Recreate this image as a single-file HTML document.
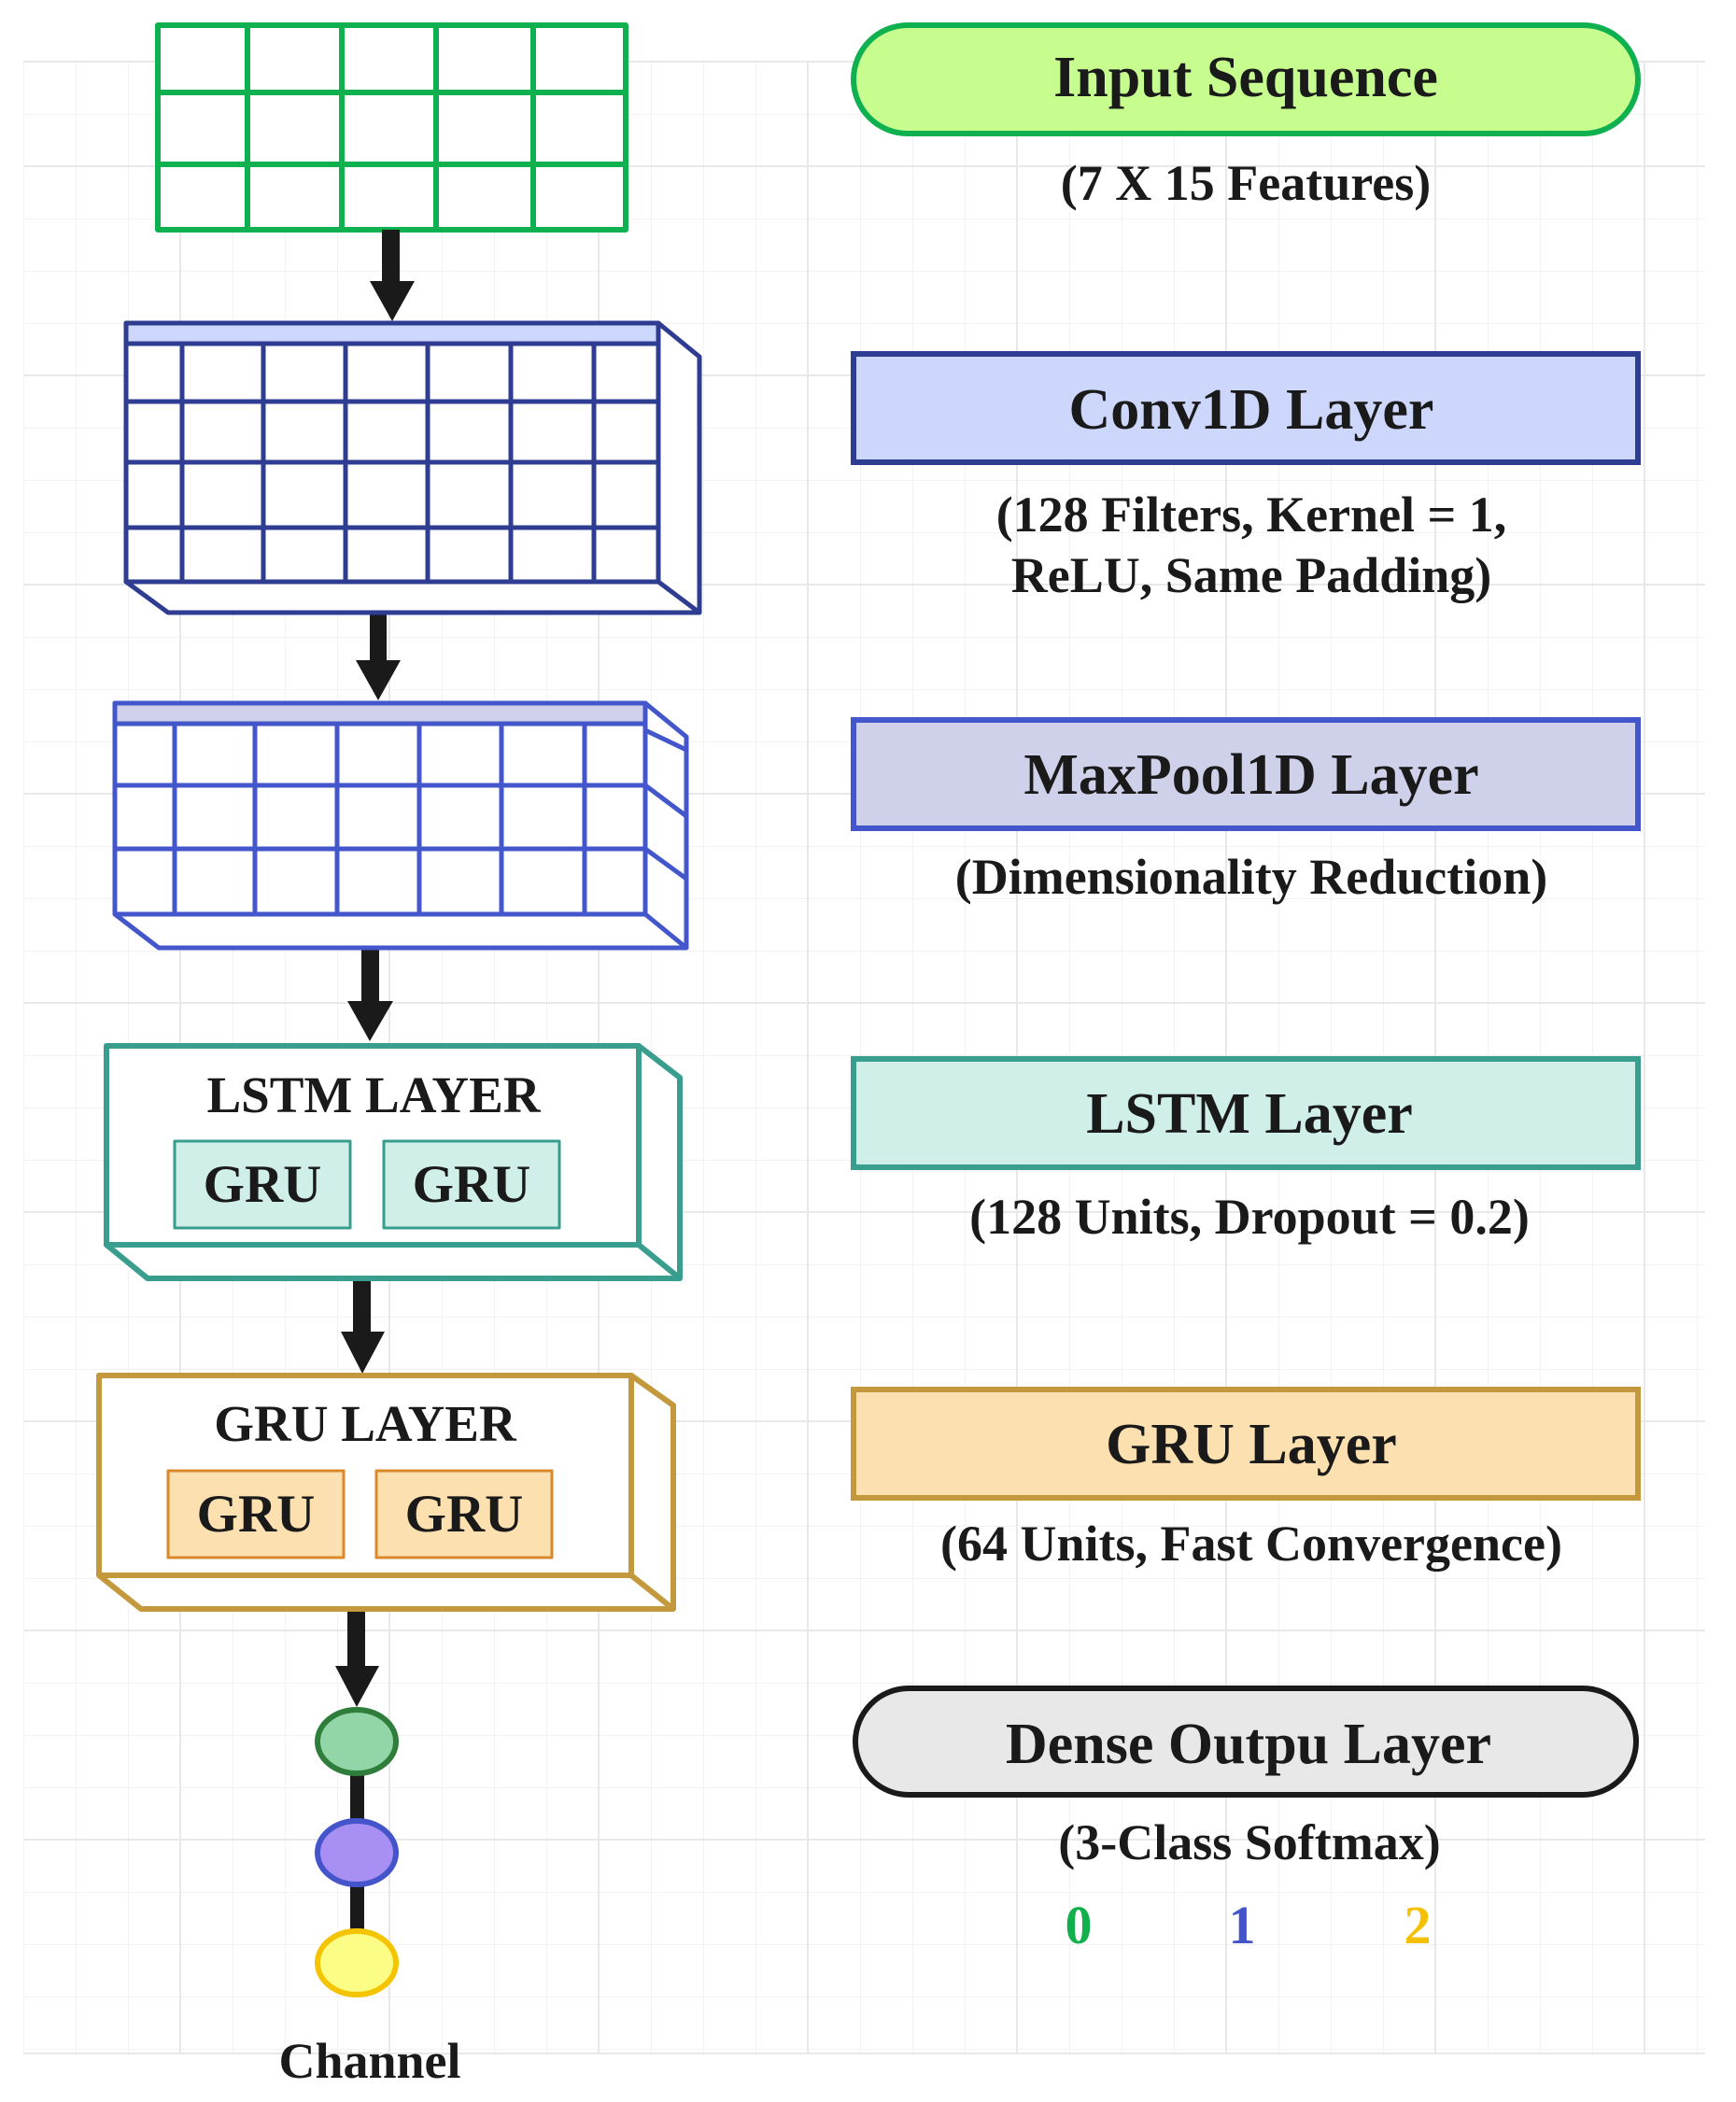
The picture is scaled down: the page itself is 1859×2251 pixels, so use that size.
<!DOCTYPE html>
<html><head><meta charset="utf-8"><style>
html,body{margin:0;padding:0;background:#fff;}
svg{display:block;}
text{font-family:"Liberation Serif",serif;font-weight:bold;fill:#1a1a1a;}
</style></head><body>
<svg width="1859" height="2251" viewBox="0 0 1859 2251" xmlns="http://www.w3.org/2000/svg">
<defs>
<pattern id="g" x="25" y="66" width="56" height="56" patternUnits="userSpaceOnUse">
<path d="M0 0H56M0 0V56" stroke="#f2f2f2" stroke-width="2" fill="none"/>
</pattern>
</defs>
<rect x="25" y="66" width="1801" height="2133" fill="url(#g)"/>
<g stroke="#e8e8e8" stroke-width="2">
<line x1="193" y1="66" x2="193" y2="2199"/><line x1="417" y1="66" x2="417" y2="2199"/>
<line x1="641" y1="66" x2="641" y2="2199"/><line x1="865" y1="66" x2="865" y2="2199"/>
<line x1="1089" y1="66" x2="1089" y2="2199"/><line x1="1313" y1="66" x2="1313" y2="2199"/>
<line x1="1537" y1="66" x2="1537" y2="2199"/><line x1="1761" y1="66" x2="1761" y2="2199"/>
<line x1="25" y1="178" x2="1826" y2="178"/><line x1="25" y1="402" x2="1826" y2="402"/>
<line x1="25" y1="626" x2="1826" y2="626"/><line x1="25" y1="850" x2="1826" y2="850"/>
<line x1="25" y1="1074" x2="1826" y2="1074"/><line x1="25" y1="1298" x2="1826" y2="1298"/>
<line x1="25" y1="1522" x2="1826" y2="1522"/><line x1="25" y1="1746" x2="1826" y2="1746"/>
<line x1="25" y1="1970" x2="1826" y2="1970"/><line x1="25" y1="2199" x2="1826" y2="2199"/>
<line x1="25" y1="66" x2="1826" y2="66"/>
</g>

<g stroke="#0fb04f" stroke-width="6" fill="#fff" stroke-linejoin="round">
<rect x="169" y="27" width="501" height="219"/>
<line x1="169" y1="99" x2="670" y2="99"/><line x1="169" y1="176" x2="670" y2="176"/>
<line x1="265" y1="27" x2="265" y2="246"/><line x1="366" y1="27" x2="366" y2="246"/>
<line x1="467" y1="27" x2="467" y2="246"/><line x1="571" y1="27" x2="571" y2="246"/>
</g>

<g fill="#1a1a1a">
<rect x="409" y="246" width="19" height="56"/><polygon points="396,301 444,301 420,344"/>
<rect x="396" y="656" width="18" height="52"/><polygon points="381,707 429,707 405,750"/>
<rect x="387" y="1015" width="19" height="58"/><polygon points="372,1072 421,1072 396,1115"/>
<rect x="378" y="1369" width="19" height="58"/><polygon points="365,1426 412,1426 388,1471"/>
<rect x="372" y="1723" width="19" height="62"/><polygon points="359,1784 406,1784 382,1828"/>
<rect x="375" y="1880" width="15" height="210"/>
</g>

<g stroke="#2e3d92" stroke-width="5" fill="#fff" stroke-linejoin="round">
<polygon points="705,346 749,382 749,656 180,656 135,623 705,623"/>
<line x1="705" y1="623" x2="749" y2="656"/>
<rect x="135" y="346" width="570" height="277"/>
<rect x="135" y="346" width="570" height="22" fill="#cdd7fb"/>
<line x1="135" y1="430" x2="705" y2="430"/><line x1="135" y1="495" x2="705" y2="495"/><line x1="135" y1="565" x2="705" y2="565"/>
<line x1="195" y1="368" x2="195" y2="623"/><line x1="282" y1="368" x2="282" y2="623"/><line x1="370" y1="368" x2="370" y2="623"/>
<line x1="458" y1="368" x2="458" y2="623"/><line x1="547" y1="368" x2="547" y2="623"/><line x1="636" y1="368" x2="636" y2="623"/>
</g>

<g stroke="#4456cc" stroke-width="5" fill="#fff" stroke-linejoin="round">
<polygon points="691,753 735,789 735,1015 170,1015 123,979 691,979"/>
<line x1="691" y1="979" x2="735" y2="1015"/>
<line x1="691" y1="782" x2="735" y2="803"/><line x1="691" y1="841" x2="735" y2="874"/><line x1="691" y1="909" x2="735" y2="941"/>
<rect x="123" y="753" width="568" height="226"/>
<rect x="123" y="753" width="568" height="22" fill="#cfd0ea"/>
<line x1="123" y1="841" x2="691" y2="841"/><line x1="123" y1="909" x2="691" y2="909"/>
<line x1="187" y1="775" x2="187" y2="979"/><line x1="273" y1="775" x2="273" y2="979"/><line x1="361" y1="775" x2="361" y2="979"/>
<line x1="449" y1="775" x2="449" y2="979"/><line x1="537" y1="775" x2="537" y2="979"/><line x1="626" y1="775" x2="626" y2="979"/>
</g>

<g stroke="#3a9e8f" stroke-width="6" fill="#fff" stroke-linejoin="round">
<polygon points="684,1120 728,1154 728,1369 158,1369 114,1333 684,1333"/>
<line x1="684" y1="1333" x2="728" y2="1369"/>
<rect x="114" y="1120" width="570" height="213"/>
<rect x="187" y="1222" width="188" height="93" fill="#d0efe8" stroke-width="3"/>
<rect x="411" y="1222" width="188" height="93" fill="#d0efe8" stroke-width="3"/>
</g>
<text x="400" y="1191" font-size="55" text-anchor="middle">LSTM LAYER</text>
<text x="281" y="1287" font-size="57" text-anchor="middle">GRU</text>
<text x="505" y="1287" font-size="57" text-anchor="middle">GRU</text>

<g stroke="#c4983c" stroke-width="6" fill="#fff" stroke-linejoin="round">
<polygon points="676,1473 721,1505 721,1723 151,1723 106,1687 676,1687"/>
<line x1="676" y1="1687" x2="721" y2="1723"/>
<rect x="106" y="1473" width="570" height="214"/>
<rect x="180" y="1575" width="188" height="93" fill="#fde0b0" stroke="#d9882b" stroke-width="3"/>
<rect x="403" y="1575" width="188" height="93" fill="#fde0b0" stroke="#d9882b" stroke-width="3"/>
</g>
<text x="391" y="1543" font-size="55" text-anchor="middle">GRU LAYER</text>
<text x="274" y="1640" font-size="57" text-anchor="middle">GRU</text>
<text x="497" y="1640" font-size="57" text-anchor="middle">GRU</text>

<ellipse cx="382" cy="1865" rx="42" ry="34" fill="#92d5a6" stroke="#2e7d3a" stroke-width="6"/>
<ellipse cx="382" cy="1984" rx="42" ry="34" fill="#a78ff3" stroke="#4455cc" stroke-width="6"/>
<ellipse cx="382" cy="2102" rx="42" ry="34" fill="#fbfd84" stroke="#f5c400" stroke-width="6"/>
<text x="396" y="2225" font-size="54" text-anchor="middle">Channel</text>

<rect x="914" y="27" width="840" height="116" rx="58" fill="#c6fd8e" stroke="#0fb04f" stroke-width="6"/>
<text x="1334" y="103" font-size="62" text-anchor="middle">Input Sequence</text>
<text x="1334" y="214" font-size="54" text-anchor="middle">(7 X 15 Features)</text>

<rect x="914" y="379" width="840" height="116" fill="#cdd7fb" stroke="#2e3d92" stroke-width="6"/>
<text x="1340" y="459" font-size="62" text-anchor="middle">Conv1D Layer</text>
<text x="1340" y="569" font-size="54" text-anchor="middle">(128 Filters, Kernel = 1,</text>
<text x="1340" y="634" font-size="54" text-anchor="middle">ReLU, Same Padding)</text>

<rect x="914" y="771" width="840" height="116" fill="#cfd0ea" stroke="#4456cc" stroke-width="6"/>
<text x="1340" y="850" font-size="62" text-anchor="middle">MaxPool1D Layer</text>
<text x="1340" y="957" font-size="54" text-anchor="middle">(Dimensionality Reduction)</text>

<rect x="914" y="1134" width="840" height="116" fill="#d0efe8" stroke="#3a9e8f" stroke-width="6"/>
<text x="1338" y="1213" font-size="62" text-anchor="middle">LSTM Layer</text>
<text x="1338" y="1321" font-size="54" text-anchor="middle">(128 Units, Dropout = 0.2)</text>

<rect x="914" y="1488" width="840" height="116" fill="#fde0b0" stroke="#c4983c" stroke-width="6"/>
<text x="1340" y="1567" font-size="62" text-anchor="middle">GRU Layer</text>
<text x="1340" y="1671" font-size="54" text-anchor="middle">(64 Units, Fast Convergence)</text>

<rect x="916" y="1808" width="836" height="114" rx="57" fill="#e8e8e8" stroke="#1a1a1a" stroke-width="6"/>
<text x="1337" y="1888" font-size="62" text-anchor="middle">Dense Outpu Layer</text>
<text x="1338" y="1991" font-size="54" text-anchor="middle">(3-Class Softmax)</text>
<text x="1155" y="2081" font-size="58" text-anchor="middle" style="fill:#12b04c">0</text>
<text x="1330" y="2081" font-size="58" text-anchor="middle" style="fill:#4455cc">1</text>
<text x="1518" y="2081" font-size="58" text-anchor="middle" style="fill:#f5c000">2</text>
</svg>
</body></html>
